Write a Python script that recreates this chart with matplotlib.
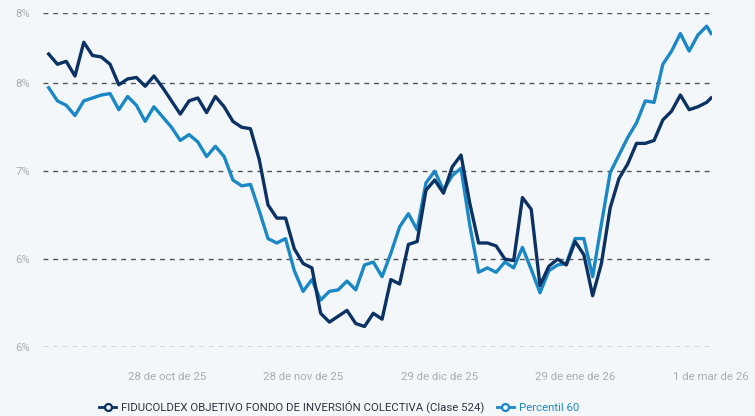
import numpy as np
import pandas as pd
import matplotlib
matplotlib.use("Agg")
import matplotlib.pyplot as plt
from matplotlib.lines import Line2D
from matplotlib.ticker import FuncFormatter

plt.rcParams['font.family'] = ['Roboto', 'DejaVu Sans']

# serie cada 2 dias desde 1 oct 2025, ultimo punto 1 mar 2026
fechas = list(pd.date_range('2025-10-01', periods=76, freq='2D')) + [pd.Timestamp('2026-03-01')]

fiducoldex = [7.80, 7.73, 7.75, 7.65, 7.88, 7.79, 7.78, 7.73, 7.59, 7.63,
              7.64, 7.58, 7.65, 7.57, 7.48, 7.39, 7.48, 7.50, 7.40, 7.51,
              7.44, 7.34, 7.30, 7.29, 7.08, 6.77, 6.68, 6.68, 6.47, 6.37,
              6.34, 6.03, 5.97, 6.01, 6.05, 5.96, 5.94, 6.03, 5.99, 6.26,
              6.23, 6.50, 6.52, 6.87, 6.94, 6.85, 7.03, 7.11, 6.78, 6.51,
              6.51, 6.49, 6.40, 6.39, 6.82, 6.74, 6.22, 6.35, 6.40, 6.36,
              6.52, 6.43, 6.15, 6.37, 6.75, 6.95, 7.05, 7.19, 7.19, 7.21,
              7.35, 7.41, 7.52, 7.42, 7.44, 7.47, 7.50]

percentil = [7.57, 7.48, 7.45, 7.38, 7.48, 7.50, 7.52, 7.53, 7.42, 7.51,
             7.45, 7.34, 7.44, 7.37, 7.30, 7.21, 7.25, 7.20, 7.10, 7.17,
             7.10, 6.94, 6.90, 6.91, 6.73, 6.54, 6.51, 6.54, 6.32, 6.18,
             6.26, 6.12, 6.18, 6.19, 6.25, 6.19, 6.36, 6.38, 6.28, 6.44,
             6.62, 6.71, 6.60, 6.92, 7.00, 6.87, 6.97, 7.02, 6.63, 6.31,
             6.34, 6.31, 6.38, 6.34, 6.48, 6.33, 6.17, 6.32, 6.36, 6.37,
             6.54, 6.54, 6.28, 6.64, 6.99, 7.11, 7.23, 7.33, 7.48, 7.47,
             7.73, 7.82, 7.94, 7.82, 7.93, 7.99, 7.94]

etiquetas = ['FIDUCOLDEX OBJETIVO FONDO DE INVERSIÓN COLECTIVA (Clase 524)', 'Percentil 60']

fechas_ticks = ['2025-10-28', '2025-11-28', '2025-12-29', '2026-01-29', '2026-03-01']
labels_ticks = ['28 de oct de 25', '28 de nov de 25', '29 de dic de 25', '29 de ene de 26', '1 de mar de 26']

y_ticks = [5.8, 6.4, 7.0, 7.6, 8.08]

fondo = '#f4f7fa'
c_osc = '#0b3263'
c_cla = '#1b88c6'

fig = plt.figure(figsize=(7.55, 4.16), dpi=100, facecolor=fondo)
ax = fig.add_axes([43/755, 1-347/416, (712-43)/755, (347-13)/416])
ax.set_facecolor(fondo)

ax.plot(fechas, fiducoldex, color=c_osc, lw=2.4, solid_joinstyle='round', zorder=3)
ax.plot(fechas, percentil, color=c_cla, lw=2.4, solid_joinstyle='round', zorder=2)

ax.set_xlim(pd.Timestamp('2025-10-01') - pd.Timedelta(hours=31), pd.Timestamp('2026-03-01') + pd.Timedelta(hours=5))
ax.set_ylim(5.8, 8.08)
ax.set_yticks(y_ticks)
ax.yaxis.set_major_formatter(FuncFormatter(lambda v, p: '%d%%' % round(v)))
ax.set_xticks([pd.Timestamp(f) for f in fechas_ticks])
ax.set_xticklabels(labels_ticks)

for s in ax.spines.values():
    s.set_visible(False)
ax.tick_params(length=0, colors='#a9adb2', labelsize=8.2)
ax.tick_params(axis='y', pad=9)
ax.tick_params(axis='x', pad=18)
ax.grid(axis='y', color='#555555', ls=(0, (3.5, 3.5)), lw=1, zorder=1)
ax.grid(axis='x', visible=False)

handles = [Line2D([], [], color=c, lw=2, marker='o', markersize=5,
                  markerfacecolor=fondo, markeredgewidth=1.6) for c in (c_osc, c_cla)]
leg = fig.legend(handles, etiquetas, loc='center', bbox_to_anchor=(0.449, 0.022), ncol=2,
                 frameon=False, fontsize=8.2, handlelength=1.5, handletextpad=0.45, columnspacing=1.05)
for t, c in zip(leg.get_texts(), ('#2a3440', c_cla)):
    t.set_color(c)

fig.savefig('out.png', dpi=100, facecolor=fondo)
